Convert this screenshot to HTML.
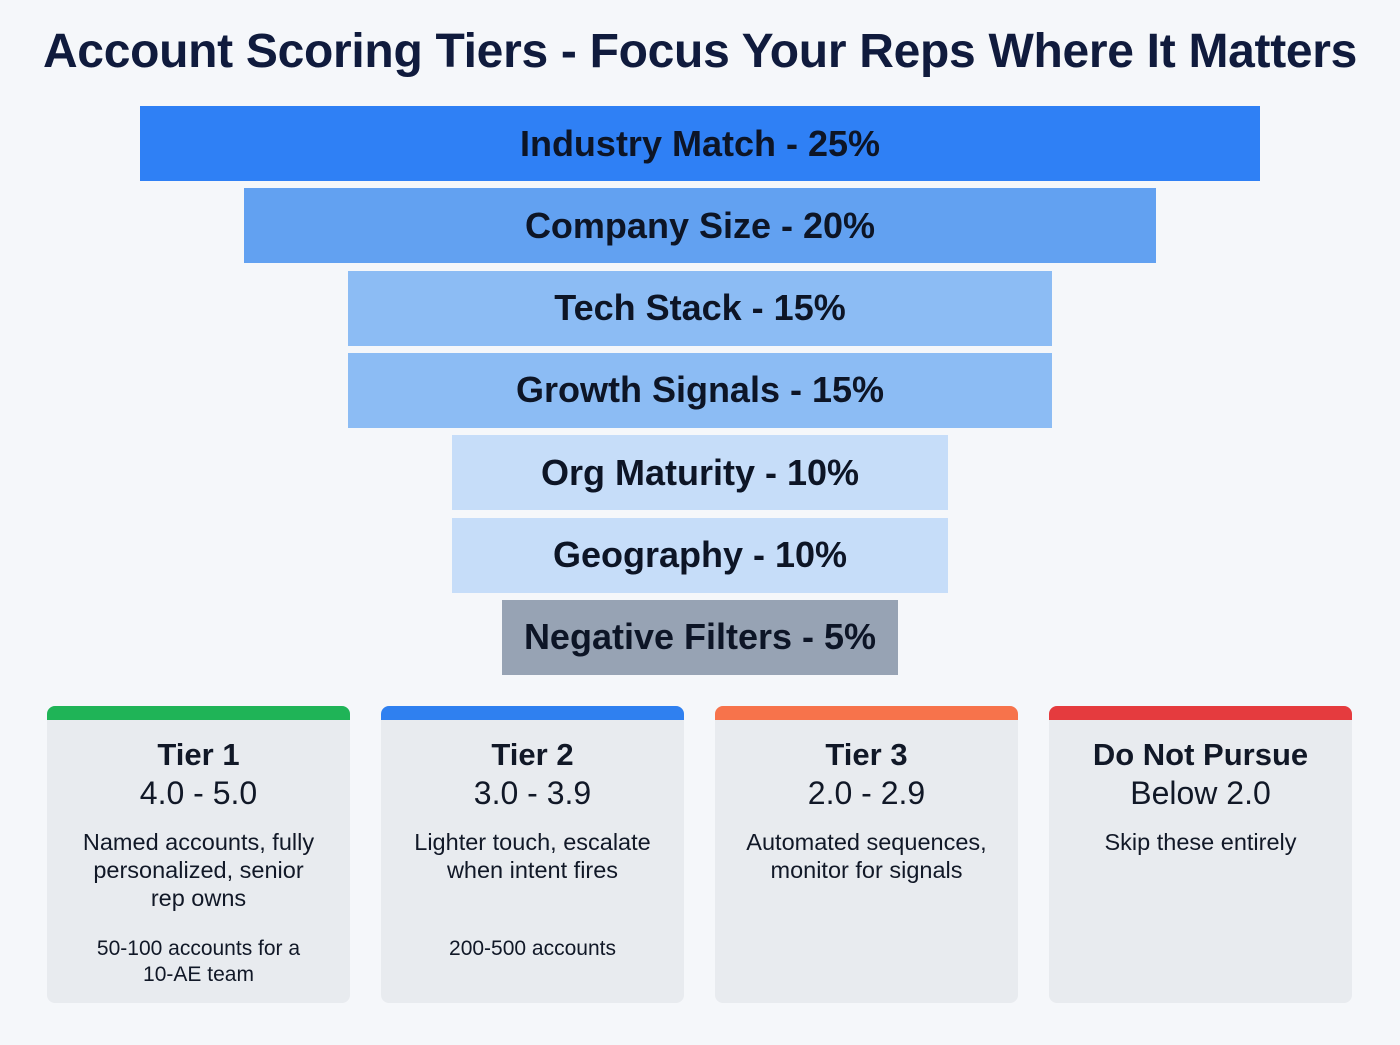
<!DOCTYPE html>
<html><head><meta charset="utf-8"><style>
body{margin:0;width:1400px;height:1045px;background:#f5f7fa;font-family:"Liberation Sans",sans-serif;position:relative;overflow:hidden}
h1{position:absolute;top:24px;left:0;width:1400px;text-align:center;margin:0;font-size:48px;font-weight:bold;color:#101b3d;letter-spacing:-0.3px}
.bar{position:absolute;display:flex;align-items:center;justify-content:center;font-weight:bold;font-size:36px;color:#0d1526}
.card{position:absolute;top:706px;width:303px;height:297px;background:#e8ebef;border-radius:8px;overflow:hidden;text-align:center;color:#111827}
.card .top{height:14px}
.card .t{font-weight:bold;font-size:31px;margin-top:17px}
.card .r{font-size:32px;margin-top:2px}
.card .d{font-size:23.5px;margin-top:16px;line-height:28px;padding:0 8px;white-space:nowrap}
.card .n{font-size:21px;line-height:26px;margin-top:24px;padding:0 8px;white-space:nowrap}
</style></head><body>
<h1>Account Scoring Tiers - Focus Your Reps Where It Matters</h1>
<div id="funnel"></div>
<div class="card" style="left:47px"><div class="top" style="background:#1fb457"></div><div class="t">Tier 1</div><div class="r">4.0 - 5.0</div><div class="d">Named accounts, fully<br>personalized, senior<br>rep owns</div><div class="n">50-100 accounts for a<br>10-AE team</div></div>
<div class="card" style="left:381px"><div class="top" style="background:#2f80f0"></div><div class="t">Tier 2</div><div class="r">3.0 - 3.9</div><div class="d">Lighter touch, escalate<br>when intent fires</div><div class="n" style="margin-top:52px">200-500 accounts</div></div>
<div class="card" style="left:715px"><div class="top" style="background:#f7734b"></div><div class="t">Tier 3</div><div class="r">2.0 - 2.9</div><div class="d">Automated sequences,<br>monitor for signals</div></div>
<div class="card" style="left:1049px"><div class="top" style="background:#e53b3e"></div><div class="t">Do Not Pursue</div><div class="r">Below 2.0</div><div class="d">Skip these entirely</div></div>
<script>
const labels=["Industry Match","Company Size","Tech Stack","Growth Signals","Org Maturity","Geography","Negative Filters"];
const weights=[25,20,15,15,10,10,5];
const colors=["#2f80f5","#62a1f1","#8cbcf4","#8cbcf4","#c6ddf9","#c6ddf9","#97a3b4"];
const f=document.getElementById('funnel');
function w(p){return Math.max(80+41.6*p,396);}
labels.forEach((l,i)=>{
 const d=document.createElement('div');
 d.className='bar';
 
 
 const ww=w(weights[i]);
 d.style.left=(700-ww/2)+'px';d.style.width=ww+'px';
 d.style.top=(106+i*82.3)+'px';d.style.height='75px';
 d.style.background=colors[i];
 d.textContent=l+' - '+weights[i]+'%';
 f.appendChild(d);
});
</script>
</body></html>
